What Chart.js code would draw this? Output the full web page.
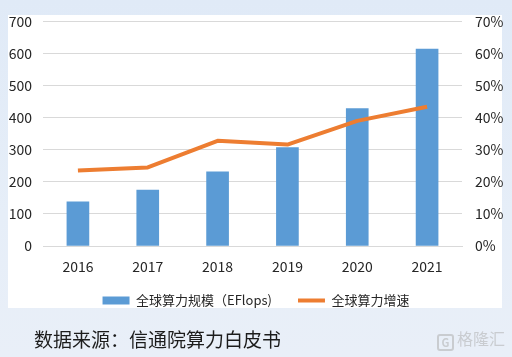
<!DOCTYPE html>
<html><head><meta charset="utf-8">
<script src="https://cdn.jsdelivr.net/npm/chart.js@4"></script>
<style>
html,body{margin:0;padding:0;}
body{width:512px;height:357px;position:relative;overflow:hidden;background:linear-gradient(180deg,#e0eaf7 0%,#e6eef8 60%,#e9eff8 100%);font-family:"Noto Sans CJK SC","Noto Sans",sans-serif;}
#panel{position:absolute;left:8px;top:15px;width:494px;height:293px;background:#fff;}
#wrap{position:absolute;left:0;top:0;width:512px;height:357px;}
#src{position:absolute;left:34px;top:326px;font-size:19px;color:#1c1c1c;line-height:26px;white-space:nowrap;}
#wm{position:absolute;left:437px;top:328px;font-size:16px;color:#c9ccd0;line-height:20px;white-space:nowrap;}
#wm .ic{display:inline-block;width:13px;height:13px;border:2px solid #c9ccd0;border-radius:3px;font-size:11px;line-height:13px;text-align:center;font-weight:bold;vertical-align:-2px;margin-right:3px;}
</style></head>
<body>
<div id="panel"></div>
<div id="wrap"><canvas id="c" width="512" height="357"></canvas></div>
<div id="src">数据来源：信通院算力白皮书</div>
<div id="wm"><span class="ic">G</span>格隆汇</div>
<script>
const categories = ['2016','2017','2018','2019','2020','2021'];
const scaleValues = [138, 174, 231, 307, 428, 614];
const growthValues = [0.235, 0.245, 0.328, 0.316, 0.39, 0.434];
const barLabel = '全球算力规模（EFlops)';
const lineLabel = '全球算力增速';

const tickFont = {family:'"Noto Sans CJK SC","Noto Sans",sans-serif', size:14};
const unclipX = {
  id:'unclipX',
  afterLayout(chart){ const x = chart.scales.x; x.bottom = x.top + 40; }
};
new Chart(document.getElementById('c'), {
  data: {
    labels: categories,
    datasets: [
      {type:'bar', label:barLabel, data:scaleValues, backgroundColor:'#5b9bd5', borderWidth:0, barThickness:22, yAxisID:'y', pointStyle:'rect', order:0},
      {type:'line', label:lineLabel, data:growthValues, borderColor:'#ed7d31', backgroundColor:'#ed7d31', borderWidth:4, pointRadius:0, tension:0, yAxisID:'y1', pointStyle:'line', order:-1, borderCapStyle:'butt', borderJoinStyle:'round'}
    ]
  },
  plugins:[unclipX],
  options: {
    responsive:false, animation:false,
    layout:{padding:{left:0,right:0,top:20,bottom:40}},
    plugins:{
      tooltip:{enabled:false},
      legend:{position:'bottom', labels:{usePointStyle:true, pointStyleWidth:27, boxHeight:8, padding:26, color:'#262626', font:{family:'"Noto Sans CJK SC","Noto Sans",sans-serif', size:13}, sort:(a,b)=>a.datasetIndex-b.datasetIndex}}
    },
    scales:{
      x:{grid:{display:false, drawTicks:false}, border:{display:true,color:'#d9d9d9',width:1}, ticks:{color:'#262626', font:tickFont, padding:12}, afterFit:(s)=>{s.height=22;}},
      y:{position:'left', min:0, max:700, ticks:{stepSize:100, color:'#262626', font:tickFont, padding:11}, grid:{color:'#d9d9d9', drawTicks:false}, border:{display:false}, afterFit:(s)=>{s.width=43;}},
      y1:{position:'right', min:0, max:0.7, ticks:{stepSize:0.1, color:'#262626', font:tickFont, padding:13, callback:(v)=>Math.round(v*100)+'%'}, grid:{drawOnChartArea:false, drawTicks:false}, border:{display:false}, afterFit:(s)=>{s.width=50;}}
    }
  }
});
</script>
</body></html>
